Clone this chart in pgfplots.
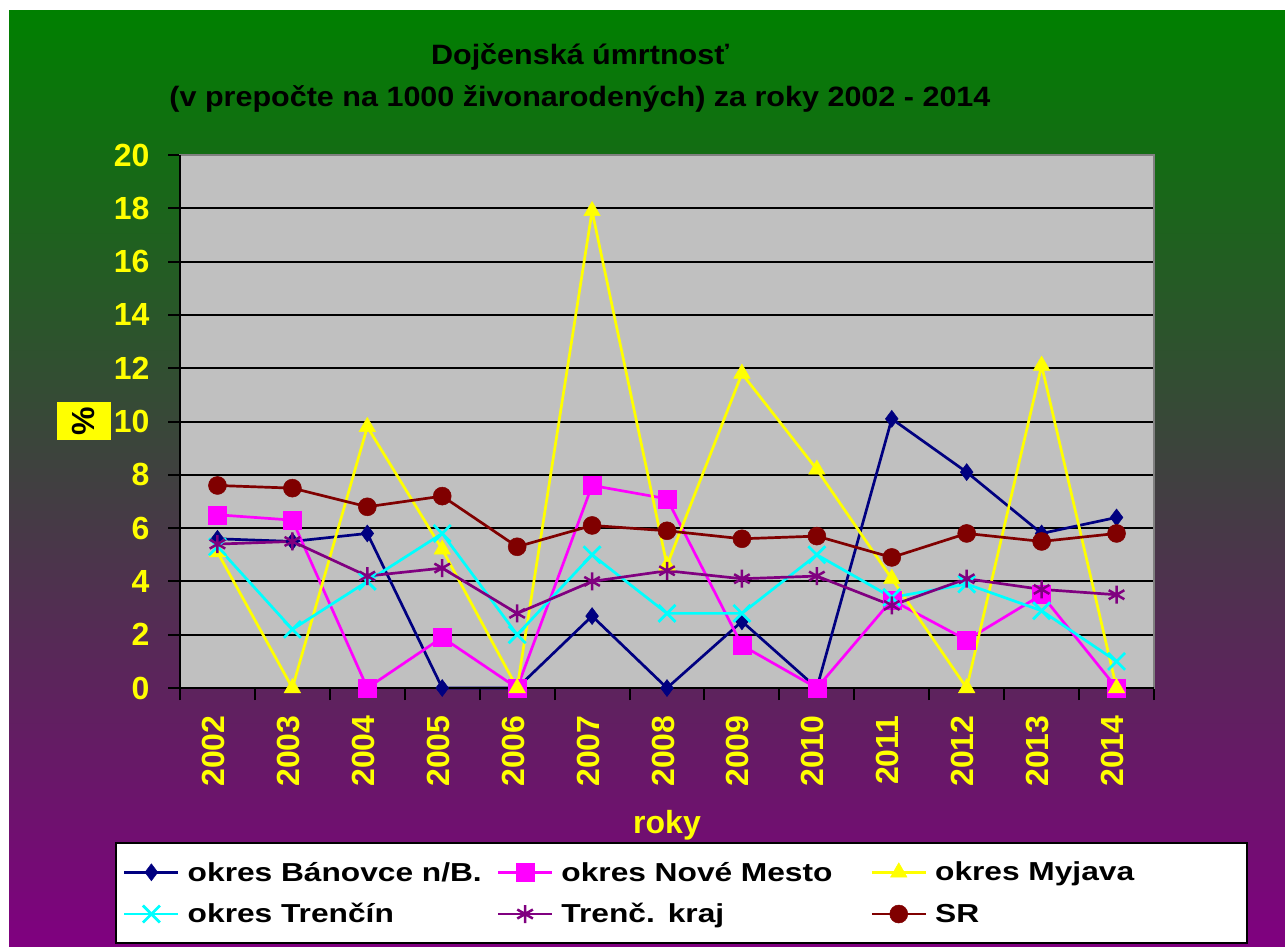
\documentclass[border=0pt]{standalone}
\usepackage{fontspec}
\setmainfont{Liberation Sans}
\newfontfamily\titlefont[FakeStretch=1.09]{Liberation Sans}
\newfontfamily\legfont[FakeStretch=1.22]{Liberation Sans}
\usepackage{pgfplots}
\pgfplotsset{compat=1.18}
\usepackage{pgfplotstable}
\definecolor{bgreen}{RGB}{0,128,0}
\definecolor{bpurple}{RGB}{128,0,128}
\definecolor{navyc}{RGB}{0,0,128}
\definecolor{plotgray}{RGB}{192,192,192}
\definecolor{srred}{RGB}{128,0,0}
\definecolor{krajc}{RGB}{128,0,128}
\definecolor{magc}{RGB}{255,0,255}
\definecolor{yelc}{RGB}{255,255,0}
\definecolor{cyanc}{RGB}{0,255,255}
\definecolor{bordergray}{RGB}{128,128,128}

\pgfplotstableread{
idx ban nove myj tren kraj sr
0  5.6  6.5  5.1  5.3 5.4 7.6
1  5.5  6.3  0    2.2 5.5 7.5
2  5.8  0    9.8  4.0 4.2 6.8
3  0    1.9  5.2  5.8 4.5 7.2
4  0    0    0    2.0 2.8 5.3
5  2.7  7.6  17.9 5.0 4.0 6.1
6  0    7.1  4.6  2.8 4.4 5.9
7  2.5  1.6  11.8 2.8 4.1 5.6
8  0    0    8.2  5.0 4.2 5.7
9  10.1 3.3  4.1  3.4 3.1 4.9
10 8.1  1.8  0    3.9 4.1 5.8
11 5.8  3.5  12.1 2.9 3.7 5.5
12 6.4  0    0    1.0 3.5 5.8
}\datatable

\begin{document}
\begin{tikzpicture}[x=1pt,y=1pt]
\useasboundingbox (0,0) rectangle (1285,-946);
\fill[white] (0,0) rectangle (1285,-946);
\shade[top color=bgreen, bottom color=bpurple] (9,-10) rectangle (1285,-946);
\node[font=\titlefont\bfseries\fontsize{28}{42}\selectfont, align=center, text=black] at (580,-78)
  {Dojčenská úmrtnosť\\(v prepočte na 1000 živonarodených) za roky 2002 - 2014};
\begin{axis}[
  at={(180pt,-688pt)}, anchor=south west, scale only axis,
  width=974pt, height=533pt,
  xmin=-0.5, xmax=12.5, ymin=0, ymax=20,
  axis background/.style={fill=plotgray},
  axis line style={draw=bordergray, line width=2pt},
  ymajorgrids, grid style={black, line width=2pt},
  ytick={0,2,...,20},
  xtick={0,1,2,3,4,5,6,7,8,9,10,11,12},
  xticklabels={2002,2003,2004,2005,2006,2007,2008,2009,2010,2011,2012,2013,2014},
  minor xtick={-0.5,0.5,...,12.5},
  tick align=outside, xtick pos=left, ytick pos=left,
  major tick length=12pt, minor tick length=12pt,
  tick style={black, line width=2pt},
  major x tick style={draw=none},
  /pgf/number format/assume math mode=true,
  ticklabel style={font=\bfseries\fontsize{32}{36}\selectfont, text=yelc},
  xticklabel style={rotate=90, anchor=east, xshift=-12pt, yshift=4pt},
  yticklabel style={xshift=-15pt},
  xlabel={roky},
  xlabel style={at={(axis description cs:0.5,-0.257)}, anchor=center, font=\bfseries\fontsize{32}{36}\selectfont, text=yelc},
  ylabel={\%},
  every axis y label/.style={at={(axis description cs:-0.0986,0.501)}, rotate=90, anchor=center},
  ylabel style={fill=yelc, text=black, font=\bfseries\fontsize{32}{36}\selectfont, minimum width=38pt, minimum height=54pt, inner sep=0pt},
  clip=false,
  legend columns=3,
  legend cell align=left,
  legend image code/.code={\draw[mark repeat=2,mark phase=2,#1] plot coordinates {(0pt,0pt) (27pt,0pt) (54pt,0pt)};},
  legend style={at={(axis description cs:-0.0667,-0.2889)}, anchor=north west,
    fill=white, draw=black, line width=2pt, inner xsep=7pt, inner ysep=15pt,
    font=\legfont\bfseries\fontsize{26}{30}\selectfont, text=black,
    nodes={inner xsep=8pt, inner ysep=4pt, text width=297pt, align=left},
    /tikz/row sep=13pt,
    /tikz/every even column/.append style={column sep=4pt}},
]
\addplot[navyc, line width=2.7pt, mark=diamond*, mark size=8.5pt, mark options={solid, line width=0.5pt, fill=navyc, draw=navyc}] table[x=idx,y=ban]{\datatable};
\addlegendentry{okres Bánovce n/B.}
\addplot[magc, line width=2.7pt, mark=square*, mark size=9pt, mark options={solid, line width=0.5pt, fill=magc, draw=magc}] table[x=idx,y=nove]{\datatable};
\addlegendentry{okres Nové Mesto}
\addplot[yelc, line width=2.7pt, mark=triangle*, mark size=9.5pt, mark options={solid, line width=0.5pt, fill=yelc, draw=yelc}] table[x=idx,y=myj]{\datatable};
\addlegendentry{okres Myjava}
\addplot[cyanc, line width=2.7pt, mark=x, mark size=12pt, mark options={solid, line width=2.7pt, draw=cyanc}] table[x=idx,y=tren]{\datatable};
\addlegendentry{okres Trenčín}
\addplot[krajc, line width=2.7pt, mark=asterisk, mark size=9pt, mark options={solid, line width=2.5pt, draw=krajc}] table[x=idx,y=kraj]{\datatable};
\addlegendentry{Trenč. kraj}
\addplot[srred, line width=2.7pt, mark=*, mark size=9pt, mark options={solid, line width=0.5pt, fill=srred, draw=srred}] table[x=idx,y=sr]{\datatable};
\addlegendentry{SR}
\draw[black, line width=2pt] (rel axis cs:0,1) -- (rel axis cs:0,0) -- (rel axis cs:1,0);
\end{axis}
\end{tikzpicture}
\end{document}
